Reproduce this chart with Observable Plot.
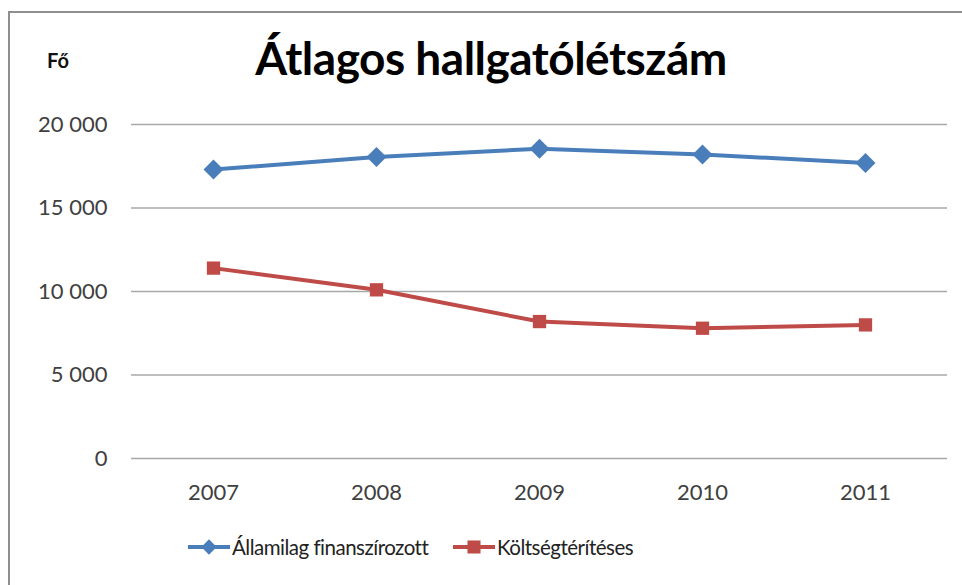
<!DOCTYPE html>
<html>
<head>
<meta charset="utf-8">
<script src="https://cdn.jsdelivr.net/npm/d3@7"></script>
<script src="https://cdn.jsdelivr.net/npm/@observablehq/plot@0.6"></script>
<style>
  html, body { margin: 0; padding: 0; background: #fff; overflow: hidden; }
  body { width: 962px; height: 585px; position: relative; font-family: Lato, "Open Sans", sans-serif; }
  #frame { position: absolute; left: 8px; top: 11px; width: 1000px; height: 700px; border: 2px solid #8f8f8f; }
  #header { position: absolute; left: 0; top: 0; width: 962px; height: 100px; }
  #unit { position: absolute; left: 47px; top: 48px; font-size: 20px; font-weight: bold; color: #111; }
  #title { position: absolute; left: 0; width: 982px; top: 30px; text-align: center; font-size: 46px; font-weight: bold; color: #000; letter-spacing: -0.5px; }
  #chart { position: absolute; left: 0; top: 100px; }
  #legend { position: absolute; left: 0; top: 520px; width: 962px; height: 60px; }
  .item { position: absolute; top: 15px; display: flex; align-items: center; font-size: 20.5px; color: #222; letter-spacing: -0.5px; }
  .item svg { margin-right: 2px; }
</style>
</head>
<body>
<div id="frame"></div>
<div id="header"><div id="unit">Fő</div><div id="title">Átlagos hallgatólétszám</div></div>
<div id="chart"></div>
<div id="legend"></div>
<script>
const years = ["2007", "2008", "2009", "2010", "2011"];
const seriesNames = ["Államilag finanszírozott", "Költségtérítéses"];
const allamilag = [17300, 18050, 18550, 18200, 17700];
const koltseg = [11400, 10100, 8200, 7800, 8000];
const yTicks = [0, 5000, 10000, 15000, 20000];
const colors = ["#4A7EBB", "#BE4B48"];

const data = [];
years.forEach((y, i) => {
  data.push({year: y, value: allamilag[i], series: seriesNames[0]});
  data.push({year: y, value: koltseg[i], series: seriesNames[1]});
});
const dataA = data.filter(d => d.series === seriesNames[0]);
const dataK = data.filter(d => d.series === seriesNames[1]);

const fmt = d => d3.format(",")(d).replace(/,/g, " ");

const plot = Plot.plot({
  width: 962,
  height: 420,
  marginLeft: 131,
  marginRight: 15,
  marginTop: 24,
  marginBottom: 62,
  style: {fontFamily: "Lato, 'Open Sans', sans-serif", fontSize: "22px", color: "#404040", background: "transparent"},
  x: {type: "point", domain: years, padding: 0.5, label: null, tickSize: 0, tickPadding: 26},
  y: {domain: [0, 20000], ticks: yTicks, tickFormat: fmt, label: null, tickSize: 0, tickPadding: 24},
  color: {domain: seriesNames, range: colors},
  marks: [
    Plot.ruleY(yTicks, {stroke: "#a8a8a8", strokeWidth: 1.6}),
    Plot.line(data, {x: "year", y: "value", z: "series", stroke: "series", strokeWidth: 4}),
    Plot.dot(dataA, {x: "year", y: "value", symbol: "diamond2", fill: "series", stroke: "none", r: 9}),
    Plot.dot(dataK, {x: "year", y: "value", symbol: "square", fill: "series", stroke: "none", r: 7.5})
  ]
});
document.getElementById("chart").appendChild(plot);

// legend
const legend = document.getElementById("legend");
const lefts = [188, 453];
seriesNames.forEach((name, i) => {
  const item = document.createElement("div");
  item.className = "item";
  item.style.left = lefts[i] + "px";
  const sym = d3.symbol(i === 0 ? d3.symbolDiamond2 : d3.symbolSquare, i === 0 ? 150 : 170)();
  item.innerHTML = `<svg width="42" height="24"><line x1="0" x2="42" y1="12" y2="12" stroke="${colors[i]}" stroke-width="4"/><path d="${sym}" transform="translate(21,12)" fill="${colors[i]}"/></svg><span>${name}</span>`;
  legend.appendChild(item);
});
</script>
</body>
</html>
